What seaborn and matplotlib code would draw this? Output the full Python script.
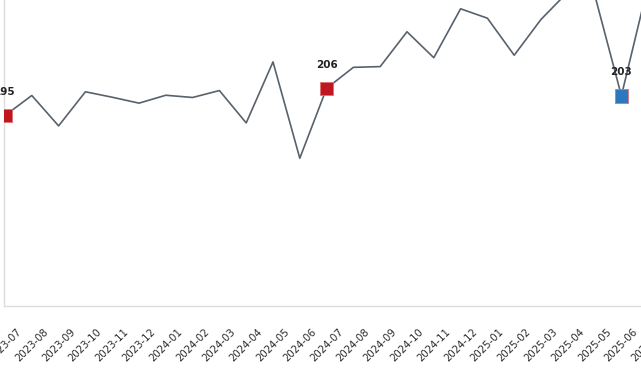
import matplotlib
matplotlib.use("Agg")
import matplotlib.pyplot as plt
import seaborn as sns
import pandas as pd

months = ["2023-07", "2023-08", "2023-09", "2023-10", "2023-11", "2023-12",
          "2024-01", "2024-02", "2024-03", "2024-04", "2024-05", "2024-06",
          "2024-07", "2024-08", "2024-09", "2024-10", "2024-11", "2024-12",
          "2025-01", "2025-02", "2025-03", "2025-04", "2025-05", "2025-06",
          "2025-07"]
values = [195, 203.1, 190.8, 204.6, 202.4, 200.0,
          203.2, 202.3, 205.1, 192.0, 216.7, 177.7,
          206, 214.5, 214.8, 228.9, 218.4, 238.2,
          234.4, 219.4, 233.9, 245, 244, 203,
          248]
highlight_months = ["2023-07", "2024-07", "2025-06"]
highlight_kind = ["same-month", "same-month", "latest"]
highlight_labels = ["195", "206", "203"]

sns.set_theme(style="white")
plt.rcParams['font.family'] = ['DejaVu Sans']

df = pd.DataFrame({"month": months, "value": values})
df["idx"] = range(len(df))
hl = pd.DataFrame({"month": highlight_months, "kind": highlight_kind,
                   "label": highlight_labels})
hl = hl.merge(df, on="month")

W, H = 641, 380
fig = plt.figure(figsize=(W / 100, H / 100), dpi=100)
px0 = 5.0
step = 26.8
xl = (-0.05, 24.5)
left_px = px0 + xl[0] * step
right_px = px0 + xl[1] * step
bottom_px = 306
top_px = -80
ax = fig.add_axes([left_px / W, (H - bottom_px) / H,
                   (right_px - left_px) / W, (bottom_px - top_px) / H])

sns.lineplot(data=df, x="idx", y="value", ax=ax, color="#58626d",
             linewidth=1.2, zorder=2)
sns.scatterplot(data=hl, x="idx", y="value", hue="kind",
                palette={"same-month": "#c0161f", "latest": "#2b78bd"},
                marker="s", s=95, edgecolor="#e07070", linewidth=0.6,
                ax=ax, legend=False, zorder=3)
for _, r in hl.iterrows():
    ax.annotate(r["label"], (r["idx"], r["value"]), xytext=(0, 17),
                textcoords="offset points", ha="center", va="center",
                fontsize=7.5, fontweight="bold", color="#222222")

ax.set_xlim(*xl)
ppu = 2.47
v_bottom = 195 - (bottom_px - 115.5) / ppu
v_top = 195 + (115.5 - top_px) / ppu
ax.set_ylim(v_bottom, v_top)
ax.set_xticks(df["idx"])
ax.set_xticklabels(months, rotation=45, ha="center", fontsize=7.3,
                   color="#2a2a2a")
ax.tick_params(axis="x", length=0, pad=15)
ax.set_yticks([])
ax.set_xlabel("")
ax.set_ylabel("")
for side in ["top", "right"]:
    ax.spines[side].set_visible(False)
for side in ["left", "bottom"]:
    ax.spines[side].set_color("#dcdcdc")
    ax.spines[side].set_linewidth(1.0)

fig.savefig("out.png", dpi=100)
